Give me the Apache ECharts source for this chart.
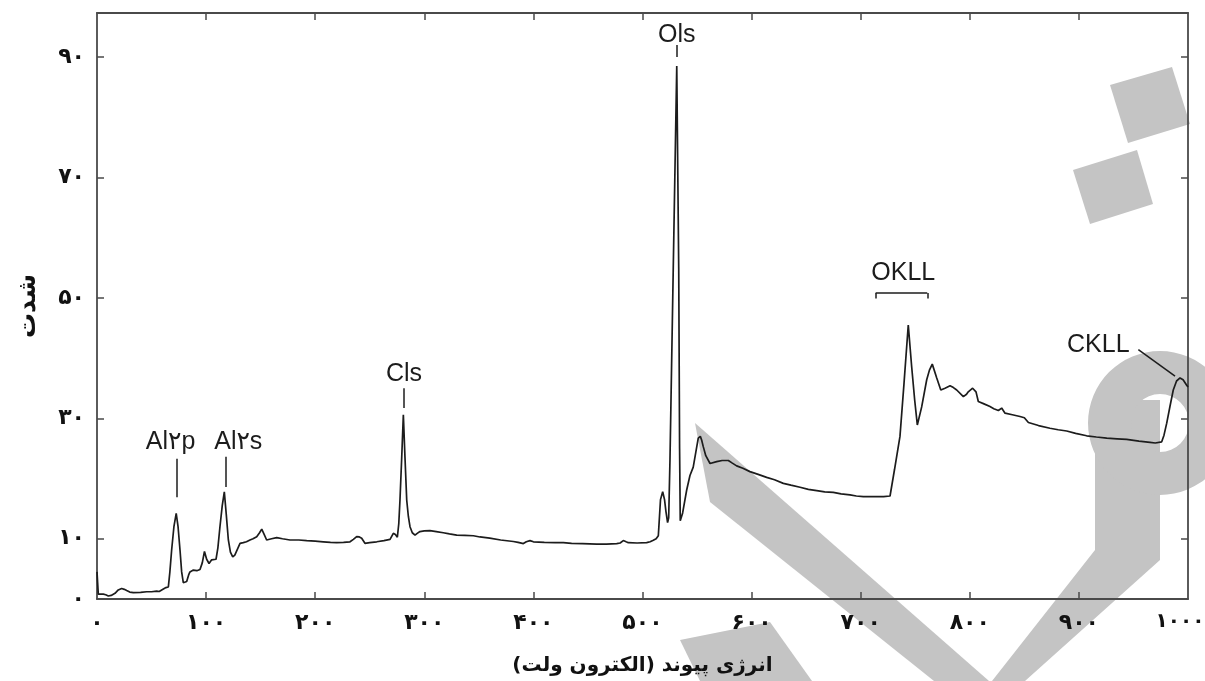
<!DOCTYPE html>
<html>
<head>
<meta charset="utf-8">
<script src="https://cdn.jsdelivr.net/npm/echarts@6/dist/echarts.min.js"></script>
<style>
  html, body { margin: 0; padding: 0; background: #fff; }
  #chart { width: 1205px; height: 681px; }
</style>
</head>
<body>
<div id="chart"></div>
<script>
// spectrum: binding energy (eV) and intensity
const energy = [
  0, 1.2, 3, 5.8, 8, 10.4, 13, 16.5, 19.5, 22.6, 25, 27.2, 30, 33.3, 40, 45.5, 50, 54.7, 57, 59.3,
  63.2, 65.4, 66.8, 68.4, 70.5, 72.6, 74.3, 76.1, 77.6, 79.1, 80.8, 82.2, 84, 85.2, 88.3, 91.5, 94.4, 96.5, 98.5, 100.5,
  102.7, 105.1, 109.1, 110.8, 112.7, 114.8, 116.7, 118.5, 120.4, 122.3, 124.4, 126.3, 128, 131.1, 134.1, 137, 140.2, 143, 146.4, 149,
  151, 153, 155.5, 160, 164.7, 170, 176.9, 185, 192.2, 200, 207.4, 214, 219.7, 226, 231.9, 235, 238, 240.5, 242.6, 245.6,
  250, 256.4, 263, 268.6, 271.6, 273.5, 275.3, 276.6, 277.7, 279.3, 280.8, 282.3, 283.9, 285.4, 286.9, 289, 291.5, 293.5, 296, 300,
  305.2, 311, 317.4, 323, 329.7, 337, 345, 351, 360, 370, 381.6, 386, 390.8, 393.5, 396.9, 400, 410, 420, 427.4, 435,
  445, 458, 467, 476.4, 479.5, 482.4, 485, 487, 495, 503.8, 507, 509.9, 512.5, 514.5, 515.5, 516.5, 518.5, 520.2, 521.5, 523,
  524, 525.2, 528.2, 531.4, 533.2, 534, 534.6, 536.8, 540.5, 543.5, 546.5, 549, 551.1, 553, 554.2, 555.7, 558, 561.9, 568, 573,
  578.7, 582, 586.3, 592, 598.5, 606, 613.8, 621, 629.1, 636, 644.4, 652, 659.7, 667, 674.9, 682, 690.2, 696, 702.4, 708,
  714.7, 721, 726.9, 731, 736, 739.7, 743.6, 746.7, 749.5, 751.9, 755.9, 760.5, 763, 765.6, 769.7, 773.4, 777.3, 781.9, 785, 788,
  794.1, 797, 798.6, 802.6, 805.7, 807.8, 813, 818.5, 822, 826.2, 829.2, 832.3, 839, 846, 850, 853.7, 863, 873.5, 881, 888.8,
  897, 907.1, 916, 925.5, 935, 943.8, 955, 965.2, 970, 975.9, 978, 980.5, 983.5, 986.5, 989.5, 992.7, 995.5, 998.8, 1000
]
const intensity = [
  4.5, 0.8, 0.5, 0.8, 0.7, 0.5, 0.6, 0.95, 1.5, 1.75, 1.6, 1.4, 1.15, 1.05, 1.1, 1.2, 1.2, 1.3, 1.25, 1.5,
  1.9, 2.0, 4.5, 8.1, 12.0, 14.2, 12.0, 8.1, 4.5, 2.7, 2.6, 2.9, 4.0, 4.5, 4.8, 4.7, 4.9, 6.0, 7.9, 6.6,
  5.9, 6.5, 6.6, 8.5, 12.0, 15.5, 17.8, 14.0, 9.8, 7.8, 7.0, 7.3, 7.6, 9.25, 9.35, 9.5, 9.8, 10.0, 10.35, 11.0,
  11.6, 10.8, 9.8, 10.0, 10.2, 10.0, 9.8, 9.8, 9.7, 9.6, 9.5, 9.4, 9.35, 9.4, 9.5, 9.9, 10.35, 10.3, 10.1, 9.25,
  9.35, 9.5, 9.7, 9.9, 10.9, 10.7, 10.25, 12.5, 16.4, 23.5, 30.6, 23.5, 16.4, 13.7, 12.0, 11.0, 10.6, 10.9, 11.2, 11.3,
  11.35, 11.2, 11.0, 10.8, 10.6, 10.55, 10.5, 10.3, 10.1, 9.8, 9.55, 9.4, 9.2, 9.5, 9.7, 9.5, 9.4, 9.35, 9.35, 9.25,
  9.2, 9.1, 9.1, 9.2, 9.3, 9.7, 9.5, 9.35, 9.3, 9.35, 9.5, 9.75, 10.0, 10.5, 13.5, 16.5, 17.8, 16.5, 14.5, 12.7,
  13.5, 23.2, 55, 88.5, 55, 25, 13.0, 14.3, 18.1, 20.5, 21.9, 24.5, 26.7, 27.0, 26.4, 25.3, 23.8, 22.5, 22.8, 23.0,
  23.0, 22.6, 22.1, 21.7, 21.15, 20.7, 20.2, 19.8, 19.2, 18.9, 18.55, 18.2, 18.0, 17.8, 17.7, 17.45, 17.3, 17.1, 17.0, 17.0,
  17.0, 17.0, 17.1, 21.5, 27.0, 35.8, 45.5, 38.6, 33.0, 28.9, 31.9, 36.4, 38.0, 39.0, 36.7, 34.7, 35.0, 35.4, 35.1, 34.7,
  33.6, 34.0, 34.4, 35.0, 34.4, 32.8, 32.4, 31.95, 31.6, 31.3, 31.7, 30.85, 30.6, 30.3, 30.1, 29.3, 28.8, 28.35, 28.1, 27.9,
  27.5, 27.1, 26.9, 26.7, 26.6, 26.5, 26.2, 26.0, 25.9, 26.1, 27.2, 29.2, 32.0, 34.7, 36.2, 36.7, 36.4, 35.5, 35.2
]

// axis ticks
const xTicks = [0, 100, 200, 300, 400, 500, 600, 700, 800, 900, 1000]
const yTicks = [10, 30, 50, 70, 90]
const yLabels = [0, 10, 30, 50, 70, 90]

// peak names, where their text sits, and their leader lines (data units)
const peakNames = ['Al۲p', 'Al۲s', 'Cls', 'Ols', 'OKLL', 'CKLL']
const peakTextAt = [[67.5, 26.1], [129.5, 26.1], [281.4, 37.4], [531.5, 93.6], [739, 54.1], [917.8, 42.2]]
const leaderLines = [
  [[73, 23.3], [73, 16.9]],
  [[118.3, 23.6], [118.3, 18.6]],
  [[281, 35], [281, 31.7]],
  [[531.5, 92.0], [531.5, 90.0]],
  [[713.7, 49.9], [713.7, 50.8]],
  [[713.7, 50.8], [761, 50.8]],
  [[761, 50.8], [761, 49.9]],
  [[954.5, 41.4], [988.1, 37.0]]
]

const faDigits = '۰۱۲۳۴۵۶۷۸۹'
const toFa = v => String(v).replace(/\d/g, d => faDigits[d])
const RLM = '\u200F'

const chart = echarts.init(document.getElementById('chart'))

const axisColor = '#4a4a4a'
const tickLabel = {
  color: '#111',
  fontFamily: 'DejaVu Sans',
  fontWeight: 'bold',
  fontSize: 22
}
const frameLine = { onZero: false, lineStyle: { color: axisColor, width: 1.8 } }
const watermark = '#c4c4c4'

chart.setOption({
  animation: false,
  backgroundColor: '#fff',
  grid: { left: 97, right: 17, top: 13, bottom: 82, outerBoundsMode: 'none', containLabel: false },
  graphic: [
    // grey watermark behind the plot
    { type: 'polygon', z: -10, shape: { points: [[695, 423], [989, 681], [934, 681], [710, 502]] }, style: { fill: watermark } },
    { type: 'polygon', z: -10, shape: { points: [[1095, 400], [1160, 400], [1160, 560], [1025, 681], [992, 681], [1095, 550]] }, style: { fill: watermark } },
    { type: 'ring', z: -10, shape: { cx: 1160, cy: 423, r: 72, r0: 29 }, style: { fill: watermark } },
    { type: 'polygon', z: -10, shape: { points: [[680, 640], [770, 622], [812, 681], [700, 681]] }, style: { fill: watermark } },
    { type: 'polygon', z: -10, shape: { points: [[1110, 85], [1172, 67], [1190, 124], [1128, 143]] }, style: { fill: watermark } },
    { type: 'polygon', z: -10, shape: { points: [[1073, 170], [1137, 150], [1153, 204], [1090, 224]] }, style: { fill: watermark } }
  ],
  xAxis: [
    {
      type: 'value',
      position: 'bottom',
      min: 0,
      max: 1000,
      interval: 100,
      name: RLM + 'انرژی پیوند (الکترون ولت)' + RLM,
      nameLocation: 'middle',
      nameGap: 57,
      nameTextStyle: { color: '#111', fontFamily: 'DejaVu Sans', fontWeight: 'bold', fontSize: 20 },
      axisLine: frameLine,
      axisTick: { inside: true, length: 7, lineStyle: { color: axisColor, width: 1.5 }, customValues: xTicks.slice(1, -1) },
      axisLabel: Object.assign({
        margin: 13,
        customValues: xTicks,
        // last label sits a little left so it stays on the page
        formatter: v => v === 1000 ? '{last|' + toFa(v) + '}' : toFa(v),
        rich: {
          last: { color: '#111', fontFamily: 'DejaVu Sans', fontWeight: 'bold', fontSize: 20, padding: [0, 16, 0, 0] }
        }
      }, tickLabel),
      splitLine: { show: false }
    },
    {
      type: 'value',
      position: 'top',
      min: 0,
      max: 1000,
      interval: 100,
      axisLine: frameLine,
      axisTick: { inside: true, length: 7, lineStyle: { color: axisColor, width: 1.5 }, customValues: xTicks.slice(1, -1) },
      axisLabel: { show: false },
      splitLine: { show: false }
    }
  ],
  yAxis: [
    {
      type: 'value',
      position: 'left',
      min: 0,
      max: 97.3,
      name: 'شدت',
      nameLocation: 'middle',
      nameGap: 56,
      nameTextStyle: { color: '#111', fontFamily: 'DejaVu Sans', fontWeight: 'bold', fontSize: 25 },
      axisLine: frameLine,
      axisTick: { inside: true, length: 7, lineStyle: { color: axisColor, width: 1.5 }, customValues: yTicks },
      axisLabel: Object.assign({ margin: 12, customValues: yLabels, formatter: v => toFa(v) }, tickLabel),
      splitLine: { show: false }
    },
    {
      type: 'value',
      position: 'right',
      min: 0,
      max: 97.3,
      axisLine: frameLine,
      axisTick: { inside: true, length: 7, lineStyle: { color: axisColor, width: 1.5 }, customValues: yTicks },
      axisLabel: { show: false },
      splitLine: { show: false }
    }
  ],
  series: [
    {
      type: 'line',
      xAxisIndex: 0,
      yAxisIndex: 0,
      data: energy.map((e, i) => [e, intensity[i]]),
      showSymbol: false,
      smooth: false,
      lineStyle: { color: '#1c1c1c', width: 1.7 },
      markLine: {
        silent: true,
        symbol: ['none', 'none'],
        label: { show: false },
        lineStyle: { color: '#1c1c1c', width: 1.5, type: 'solid' },
        data: leaderLines.map(l => [{ coord: l[0] }, { coord: l[1] }])
      },
      markPoint: {
        silent: true,
        symbol: 'rect',
        symbolSize: 1,
        itemStyle: { color: 'rgba(0,0,0,0)' },
        label: {
          show: true,
          position: 'inside',
          color: '#1c1c1c',
          fontFamily: 'Liberation Sans, DejaVu Sans',
          fontSize: 25,
          formatter: p => p.name
        },
        data: peakNames.map((n, i) => ({ name: n, coord: peakTextAt[i] }))
      }
    }
  ]
})
</script>
</body>
</html>
